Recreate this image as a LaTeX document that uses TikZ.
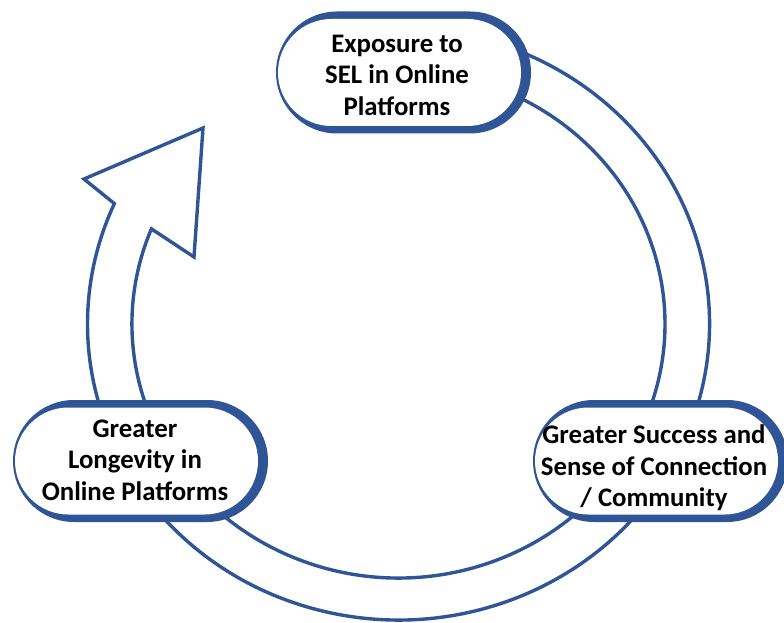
\documentclass[tikz,border=0pt]{standalone}
\usepackage{fontspec}
\setmainfont{Carlito}
\usetikzlibrary{shapes.misc,calc}
\definecolor{ringblue}{RGB}{47,85,151}
\begin{document}
\begin{tikzpicture}[x=1pt,y=1pt,
  outerbox/.style={rounded rectangle, fill=ringblue, draw=none, minimum width=255pt, minimum height=122pt, inner sep=0pt},
  innerbox/.style={rounded rectangle, fill=white, draw=none, minimum width=243pt, minimum height=107pt, inner sep=0pt},
  lbl/.style={align=center, font=\fontsize{26.8}{31.5}\selectfont\bfseries, text=black, inner sep=0pt},
  ring/.style={draw=ringblue, fill=white, line width=3.4pt, line join=miter}]
\useasboundingbox (0,0) rectangle (784,622);
\coordinate (C) at (398.5,298);
\coordinate (barbL) at (84,443);
\coordinate (tip) at (203,494);
\coordinate (barbR) at (194,365);
\draw[ring] ($(C)+(75:311 and 296)$) arc[start angle=75,end angle=-204,x radius=311,y radius=296]
  -- (barbL) -- (tip) -- (barbR)
  -- ($(C)+(-202:266.5 and 254)$) arc[start angle=-202,end angle=75,x radius=266.5,y radius=254] -- cycle;
% top
\node[outerbox] (topo) at (403.5,549.5) {};
\node[innerbox] (topi) at (399.5,549.5) {};
\node[lbl] (topt) at (397,547) {Exposure to\\SEL in Online\\Platforms};
% left
\node[outerbox] (lefto) at (140.5,161) {};
\node[innerbox] (lefti) at (136.5,161) {};
\node[lbl] (leftt) at (135,162) {Greater\\Longevity in\\Online Platforms};
% right
\node[outerbox] (righto) at (660.5,161) {};
\node[innerbox] (righti) at (656.5,161) {};
\node[lbl] (rightt) at (654,154) {Greater Success and\\Sense of Connection\\/ Community};
\end{tikzpicture}
\end{document}
